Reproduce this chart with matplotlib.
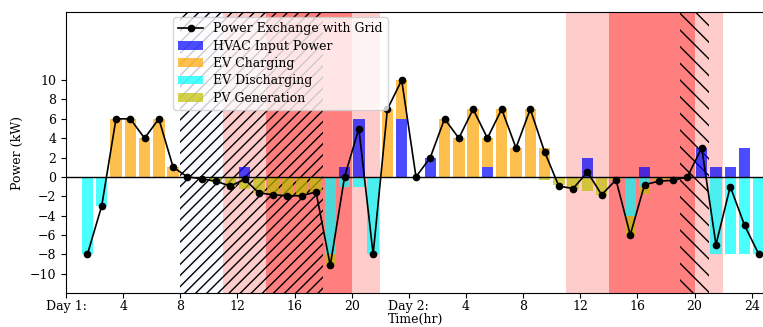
import matplotlib.pyplot as plt
import numpy as np

plt.rcParams['font.family'] = 'DejaVu Serif'
plt.rcParams['font.size'] = 9

# hourly values over two days (kW), hour 1 .. 48
hours = np.arange(1, 49)
grid = [-8, -3, 6, 6, 4, 6, 1, 0, -0.2, -0.45, -0.95, -0.25,
        -1.65, -1.85, -1.95, -1.95, -1.55, -9.15, 0, 5, -8, 7, 10, 0,
        2, 6, 4, 7, 4, 7, 3, 7, 2.6, -0.95, -1.2, 0.5,
        -1.85, -0.3, -6, -0.8, -0.45, -0.35, 0, 3, -7, -1, -5, -8]
hvac = [0, 0, 0, 0, 0, 0, 0, 0, 0, 0, 0, 1,
        0, 0, 0, 0, 0, 0, 1, 6, 0, 0, 6, 0,
        2, 0, 0, 0, 1, 0, 0, 0, 0, 0, 0, 2,
        0, 0, 0, 1, 0, 0, 0, 3, 1, 1, 3, 0]
ev_charge = [0, 0, 6, 6, 4, 6, 1, 0, 0, 0, 0, 0,
             0, 0, 0, 0, 0, 0, 0, 0, 0, 7, 4, 0,
             0, 6, 4, 7, 3, 7, 3, 7, 3, 0, 0, 0,
             0, 0, 0, 0, 0, 0, 0, 0, 0, 0, 0, 0]
ev_discharge = [8, 3, 0, 0, 0, 0, 0, 0, 0, 0, 0, 0,
                0, 0, 0, 0, 0, 8, 1, 1, 8, 0, 0, 0,
                0, 0, 0, 0, 0, 0, 0, 0, 0, 0, 0, 0,
                0, 0, 4, 1, 0, 0, 0, 0, 8, 8, 8, 8]
pv = [0, 0, 0, 0, 0, 0, 0, 0, 0.2, 0.5, 1.0, 1.3,
      1.65, 1.8, 1.9, 1.9, 1.6, 1.15, 0, 0, 0, 0, 0, 0,
      0, 0, 0, 0, 0, 0, 0, 0, 0.35, 0.8, 1.2, 1.5,
      1.9, 0.35, 2, 0.8, 0.4, 0.3, 0, 0, 0, 0, 0, 0]

xtick_labels = ['Day 1:', '4', '8', '12', '16', '20',
                'Day 2:', '4', '8', '12', '16', '20', '24']

hvac = np.array(hvac)
ev_discharge = np.array(ev_discharge)
x = hours + 0.5

fig = plt.figure(figsize=(7.63, 3.27), dpi=100)
ax = fig.add_axes([0.0865, 0.104, 0.9174, 0.858])

# price periods and flexibility windows
ax.axvspan(8, 11, color='#f7faff', lw=0)
ax.axvspan(11, 14, color='red', alpha=0.2, lw=0)
ax.axvspan(14, 20, color='red', alpha=0.5, lw=0)
ax.axvspan(20, 22, color='red', alpha=0.2, lw=0)
ax.axvspan(35, 38, color='red', alpha=0.2, lw=0)
ax.axvspan(38, 44, color='red', alpha=0.5, lw=0)
ax.axvspan(44, 46, color='red', alpha=0.2, lw=0)
ax.axvspan(8, 18, fill=False, hatch='///', edgecolor='k', lw=0)
ax.axvspan(43, 45, fill=False, hatch='\\\\', edgecolor='k', lw=0)

ax.bar(x, hvac, 0.8, color='blue', alpha=0.7, label='HVAC Input Power')
ax.bar(x, ev_charge, 0.8, bottom=hvac, color='orange', alpha=0.7, label='EV Charging')
ax.bar(x, -ev_discharge, 0.8, color='cyan', alpha=0.7, label='EV Discharging')
ax.bar(x, -np.array(pv), 0.8, bottom=-ev_discharge, color='y', alpha=0.7, label='PV Generation')
ax.axhline(0, color='k', lw=1)
ax.plot(x, grid, 'k-o', markersize=4.5, lw=1.2, label='Power Exchange with Grid')

ax.set_xlim(0, 49)
ax.set_ylim(-12, 17)
ax.set_xticks(range(0, 49, 4))
ax.set_xticklabels(xtick_labels)
ax.set_yticks(range(-10, 11, 2))
ax.tick_params(axis='x', pad=1.5)
ax.set_xlabel('Time(hr)', labelpad=0)
ax.set_ylabel('Power (kW)')
ax.legend(loc='upper left', bbox_to_anchor=(0.153, 0.983), borderaxespad=0,
          labelspacing=0.35)

fig.savefig('out.png', dpi=100)
